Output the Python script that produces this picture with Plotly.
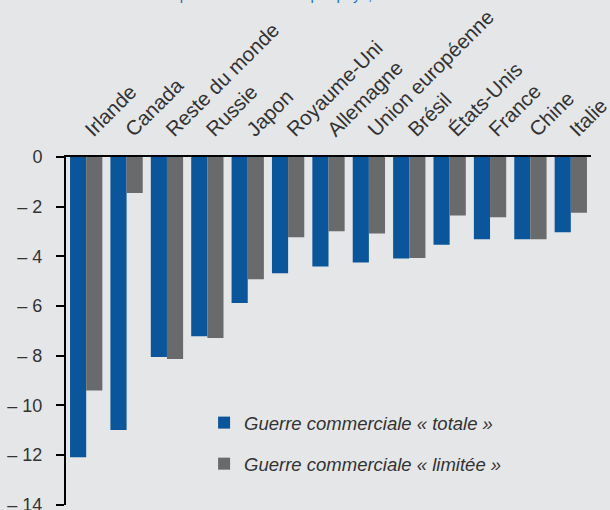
import plotly.graph_objects as go

categories = ["Irlande", "Canada", "Reste du monde", "Russie", "Japon", "Royaume-Uni",
              "Allemagne", "Union européenne", "Brésil", "États-Unis", "France", "Chine", "Italie"]
totale = [-12.1, -11.0, -8.06, -7.22, -5.88, -4.68, -4.41, -4.25, -4.09, -3.54, -3.31, -3.31, -3.03]
limitee = [-9.41, -1.45, -8.14, -7.29, -4.93, -3.23, -2.99, -3.08, -4.07, -2.36, -2.43, -3.31, -2.25]
series_names = ["Guerre commerciale « totale »", "Guerre commerciale « limitée »"]
y_ticks = [0, -2, -4, -6, -8, -10, -12, -14]
y_ticktext = ["0", "– 2", "– 4", "– 6", "– 8", "– 10", "– 12", "– 14"]

BLUE = "#0b559a"
GRAY = "#686a6c"
BG = "#e5e6e8"
TXT = "#333333"
FONT = "Liberation Sans, Arial, sans-serif"

fig = go.Figure()
fig.add_trace(go.Bar(x=categories, y=totale, name=series_names[0], marker_color=BLUE,
                     marker_line_width=0, legendgroup="a"))
fig.add_trace(go.Bar(x=categories, y=limitee, name=series_names[1], marker_color=GRAY,
                     marker_line_width=0, legendgroup="b"))

fig.update_layout(
    width=610, height=510,
    paper_bgcolor=BG, plot_bgcolor=BG,
    margin=dict(l=66, r=19, t=157, b=5, autoexpand=False),
    barmode="group", bargap=0.2, bargroupgap=0,
    font=dict(family=FONT, size=16, color=TXT),
    showlegend=True,
    legend=dict(x=0.263, y=0.29, xanchor="left", yanchor="top",
                bgcolor="rgba(0,0,0,0)", traceorder="grouped", tracegroupgap=14,
                font=dict(family=FONT, size=18.5, color=TXT, style="italic")),
    xaxis=dict(side="top", type="category", tickangle=-45, ticks="", showgrid=False,
               showline=True, linecolor="black", linewidth=2, zeroline=False,
               ticklabelstandoff=6, automargin=False,
               range=[-0.5, len(categories) - 0.5], tickfont=dict(size=20.5, color=TXT)),
    yaxis=dict(range=[-14.02, 0], tickvals=y_ticks, ticktext=y_ticktext, showgrid=False,
               zeroline=False, showline=True, linecolor="black", linewidth=2,
               ticks="outside", ticklen=8, tickwidth=2, tickcolor="black",
               ticklabelstandoff=10, ticklabeloverflow="allow", automargin=False,
               tickfont=dict(size=18, color=TXT)),
    annotations=[dict(text="Impact sur le PIB réel par pays, en %", xref="paper", yref="paper",
                      x=0.42, y=1.437, xanchor="center", yanchor="bottom", showarrow=False,
                      font=dict(family=FONT, size=15, color="#1f6fc0"))],
)

fig.write_html("out.html", config={"displayModeBar": False},
               post_script="document.body.style.margin='0';document.body.style.background='#e5e6e8';")
